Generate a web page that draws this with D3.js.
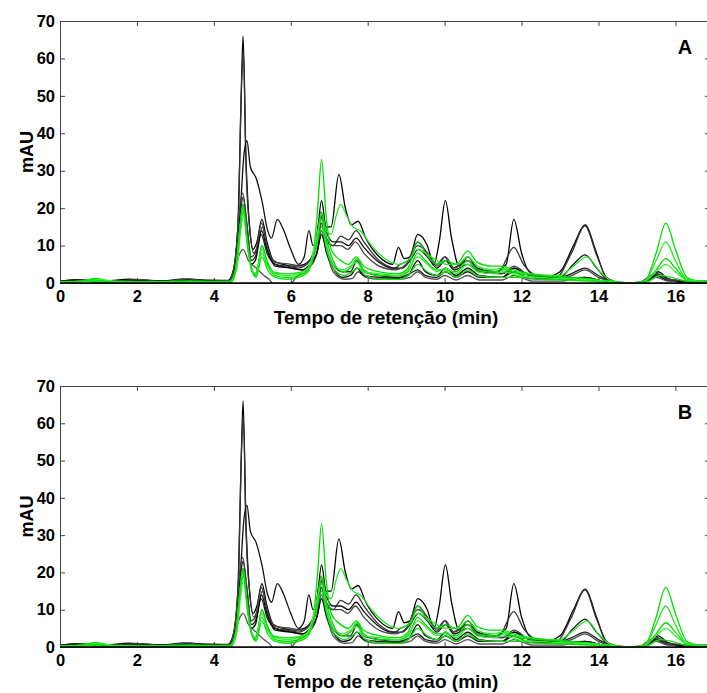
<!DOCTYPE html>
<html>
<head>
<meta charset="utf-8">
<script src="https://cdn.jsdelivr.net/npm/d3@7"></script>
<style>
  html, body { margin: 0; padding: 0; background: #fff; }
  svg { display: block; font-family: "Liberation Sans", Arial, sans-serif; }
  .tick text { font-weight: bold; font-size: 16.5px; fill: #000; }
  .axis path, .axis line { stroke: #444; }
  .trace { fill: none; }
</style>
</head>
<body>
<svg id="chart" width="707" height="693"></svg>
<script>
// Chromatograms, [retention time (min), mAU].
// Both panels show the same set of runs.
const xTicks = [0, 2, 4, 6, 8, 10, 12, 14, 16];
const yTicks = [0, 10, 20, 30, 40, 50, 60, 70];

const black1 = [[0,0.2],[0.4,0.7],[0.8,0.5],[1.5,0.3],[2.0,0.8],[2.5,0.4],[3.2,1.0],[3.6,0.5],[4.35,0.5],[4.5,3],[4.62,14],[4.7,45],[4.76,66],[4.83,35],[4.92,16],[5.02,9],[5.12,11],[5.25,17],[5.38,11],[5.55,6],[5.8,5],[6.1,4.5],[6.35,5],[6.55,7],[6.68,12],[6.8,22],[6.92,15],[7.05,15],[7.25,29],[7.42,20],[7.58,15.5],[7.75,16.5],[7.95,12],[8.3,7],[8.65,5],[8.8,9.5],[8.95,6.5],[9.1,7],[9.3,13],[9.55,10],[9.72,5],[9.86,11],[10.02,22],[10.18,12],[10.38,4.5],[10.6,7],[10.85,4],[11.3,3],[11.6,5],[11.8,17],[12.0,8],[12.2,3],[12.6,1.5],[13.0,3],[13.35,10],[13.65,15.5],[13.95,8],[14.2,1.5],[14.6,0],[15.2,0.2],[15.5,2.5],[15.8,1],[16.2,0.3],[16.9,0.5]];
const black2 = [[0,0.4],[0.5,0.8],[1.0,0.3],[2.0,0.6],[2.6,0.3],[3.3,0.9],[3.7,0.4],[4.38,0.6],[4.52,4],[4.64,18],[4.71,50],[4.77,61],[4.84,30],[4.94,14],[5.04,8],[5.14,10],[5.26,15],[5.4,9],[5.6,5],[5.9,4.5],[6.2,4],[6.45,5.5],[6.62,9],[6.79,19],[6.93,11],[7.1,10],[7.3,12.5],[7.5,11.5],[7.7,14],[7.9,11],[8.3,6],[8.7,4],[8.85,5],[9.05,6],[9.3,10],[9.55,8],[9.8,5],[10.0,7],[10.2,4],[10.6,6],[10.9,3.5],[11.4,3],[11.8,9.5],[12.05,5],[12.4,2],[12.9,1.5],[13.3,8],[13.65,15.3],[13.95,7.5],[14.25,1],[14.7,0],[15.2,0.2],[15.5,2.2],[15.85,0.8],[16.3,0.2],[16.9,0.4]];
const black3 = [[0,0.3],[0.6,0.5],[1.2,0.6],[1.8,1.0],[2.3,0.7],[3.0,0.5],[3.5,0.8],[4.4,0.7],[4.55,5],[4.68,18],[4.78,34],[4.86,38],[4.95,31],[5.1,28],[5.25,22],[5.4,14],[5.5,12],[5.65,17],[5.8,14.5],[6.0,9],[6.2,5],[6.35,7],[6.47,14],[6.58,10],[6.7,12],[6.82,18],[6.95,13],[7.1,11],[7.3,11],[7.5,10],[7.7,12],[7.9,9.5],[8.3,5.5],[8.6,4],[8.9,4],[9.1,6],[9.32,9],[9.55,7],[9.8,4],[10.02,6],[10.25,3.5],[10.6,5],[10.9,3],[11.5,2.5],[11.8,4],[12.1,2.5],[12.5,1.5],[13.0,1.5],[13.35,5],[13.65,7.5],[13.95,4],[14.3,0.5],[14.8,0],[15.2,0.3],[15.5,2],[15.8,0.7],[16.9,0.3]];
const black4 = [[0,0.2],[0.5,0.5],[1.1,0.3],[2.0,0.4],[2.8,0.5],[3.3,0.8],[3.8,0.4],[4.4,0.5],[4.55,5],[4.68,18],[4.76,23],[4.86,15],[4.98,6],[5.08,7],[5.23,13],[5.38,8],[5.6,5],[6.0,4],[6.3,3.5],[6.55,5],[6.7,9],[6.8,16],[6.92,10],[7.1,5],[7.35,3],[7.55,3],[7.72,6],[7.9,3],[8.3,2],[8.8,1.5],[9.1,2.5],[9.3,3.5],[9.5,2],[9.8,1.5],[10.02,3],[10.3,1.5],[10.6,3],[10.9,1.5],[11.5,1.5],[11.8,3],[12.2,1.2],[12.8,1],[13.3,2.5],[13.65,4],[14.0,2],[14.4,0.3],[15.0,0],[15.3,0.5],[15.5,2],[15.75,1],[16.2,0.2],[16.9,0.3]];
const black5 = [[0,0.3],[0.7,0.5],[1.5,0.4],[2.2,0.3],[3.2,0.7],[4.4,0.5],[4.55,4],[4.68,8],[4.76,9],[4.9,6],[5.1,4],[5.3,2],[5.5,0.2],[5.6,-2],[5.95,-1],[6.1,1],[6.3,3],[6.55,5],[6.7,9],[6.8,14],[6.92,9],[7.1,3],[7.4,1],[7.6,1.2],[7.75,3],[7.95,1.5],[8.3,1],[8.8,1],[9.1,1.5],[9.3,3],[9.5,1.5],[9.8,1],[10.0,2],[10.3,0.8],[10.6,2],[10.9,0.8],[11.5,0.8],[11.8,2],[12.3,0.5],[13.0,0.5],[13.65,1.5],[14.2,0.3],[15.0,0],[15.5,1.5],[15.8,0.5],[16.9,0.2]];
const black6 = [[0,0.5],[0.4,0.8],[0.9,0.6],[1.6,0.3],[2.4,0.4],[3.1,0.6],[3.4,1.0],[3.9,0.5],[4.42,0.6],[4.57,6],[4.68,17],[4.75,21],[4.85,14],[4.97,5],[5.08,6],[5.24,14],[5.38,9],[5.6,4.5],[6.0,4],[6.3,3.5],[6.5,5],[6.68,8],[6.8,13],[6.93,8],[7.1,4],[7.35,1.5],[7.55,2],[7.72,4],[7.9,2],[8.3,1.5],[8.8,1.2],[9.05,2],[9.3,6],[9.5,3],[9.8,2],[10.02,4],[10.3,2],[10.6,4],[10.9,2],[11.5,1.5],[11.8,4],[12.2,2],[12.8,1],[13.65,1.5],[14.2,0.3],[15.0,0],[15.35,1],[15.55,3],[15.8,1.2],[16.3,0.3],[16.9,0.4]];
const black7 = [[0,0.4],[0.6,0.6],[1.3,0.4],[2.1,0.9],[2.7,0.4],[3.3,1.1],[3.8,0.5],[4.4,0.6],[4.55,6],[4.67,20],[4.75,24],[4.86,16],[4.97,7],[5.08,8],[5.24,16],[5.38,10],[5.6,5.5],[6.0,5],[6.3,4.5],[6.5,6],[6.68,10],[6.8,17],[6.93,12],[7.1,10],[7.3,10],[7.48,9],[7.68,11],[7.9,8],[8.3,4.5],[8.7,3.5],[9.0,5],[9.3,11],[9.55,8],[9.8,4.5],[10.02,7],[10.25,4],[10.6,6],[10.9,3],[11.5,2.5],[11.8,4.5],[12.2,2],[12.8,1],[13.3,2],[13.65,3.5],[14.0,1.5],[14.4,0.2],[15.0,0],[15.5,2.5],[15.8,1],[16.9,0.3]];

const green1 = [[0,0.2],[0.5,0.4],[0.9,1.2],[1.3,0.5],[1.8,0.2],[2.5,0.3],[3.2,0.5],[4.4,0.3],[4.55,3],[4.67,14],[4.75,21],[4.85,13],[4.97,4],[5.07,2],[5.15,5],[5.25,10],[5.38,6],[5.55,3],[5.9,2.5],[6.3,3],[6.55,6],[6.7,20],[6.8,33],[6.92,18],[7.05,9],[7.3,6],[7.5,5],[7.7,7],[7.9,4.5],[8.3,3],[8.8,2.5],[9.05,4],[9.3,11],[9.5,8],[9.8,5],[10.02,6],[10.3,5],[10.6,8.5],[10.85,5.5],[11.2,4.5],[11.5,4.5],[11.8,3.5],[12.2,2.5],[12.7,2],[13.3,1.5],[13.7,1.2],[14.2,0.5],[14.8,0],[15.2,0.5],[15.5,8],[15.75,16],[16.0,9],[16.3,1.5],[16.6,0.5],[16.9,0.3]];
const green2 = [[0,0.3],[0.6,0.5],[0.95,1.0],[1.4,0.3],[2.2,0.2],[3.0,0.4],[4.42,0.3],[4.57,4],[4.68,15],[4.76,20],[4.86,12],[4.98,4],[5.08,2.5],[5.25,8],[5.4,4.5],[5.6,2.5],[6.0,2.5],[6.35,3],[6.55,6],[6.7,13],[6.8,19],[6.92,14],[7.05,13],[7.18,18],[7.3,21],[7.45,18],[7.62,15],[7.8,14],[8.1,10],[8.45,6.5],[8.8,5],[9.05,6],[9.3,9],[9.5,8],[9.8,6],[10.05,5],[10.35,5],[10.6,7],[10.85,4.5],[11.2,3.5],[11.55,4],[11.8,3],[12.2,2.5],[12.6,2],[13.0,2],[13.35,4.5],[13.7,7],[14.0,3.5],[14.3,0.8],[14.8,0],[15.2,0.5],[15.5,6],[15.75,11],[16.0,6],[16.3,1],[16.9,0.3]];
const green3 = [[0,0.2],[0.5,0.3],[0.9,0.8],[1.5,0.2],[2.5,0.2],[3.3,0.4],[4.45,0.3],[4.6,5],[4.7,16],[4.77,19],[4.88,10],[5.0,3],[5.1,2],[5.25,10],[5.4,5],[5.6,2],[5.9,1.5],[6.2,2],[6.45,3.5],[6.65,10],[6.8,18],[6.92,12],[7.1,6],[7.35,3],[7.55,4],[7.72,6.5],[7.9,3.5],[8.3,2],[8.8,2],[9.05,3],[9.3,8],[9.5,6],[9.8,3.5],[10.02,3.5],[10.3,3],[10.6,6],[10.85,3.5],[11.3,3],[11.55,3.5],[11.9,2.5],[12.5,2],[13.0,1.5],[13.6,1],[14.2,0.5],[14.8,0],[15.2,0.5],[15.5,3.5],[15.75,6.5],[16.0,4],[16.3,0.8],[16.9,0.3]];
const green4 = [[0,0.3],[0.7,0.4],[1.0,0.9],[1.6,0.3],[2.4,0.2],[3.4,0.3],[4.45,0.4],[4.6,4],[4.7,14],[4.77,18],[4.88,9],[5.0,3],[5.1,2.5],[5.25,9],[5.4,4.5],[5.6,2.5],[5.9,2],[6.2,2.5],[6.45,4],[6.65,11],[6.8,17],[6.93,10],[7.1,5],[7.35,3.5],[7.55,4.5],[7.72,5.5],[7.9,3],[8.3,2.5],[8.8,2],[9.05,3.5],[9.3,7],[9.55,5],[9.8,3],[10.02,4],[10.3,2.5],[10.6,5],[10.85,3],[11.3,2.5],[11.55,3],[11.9,2],[12.5,1.5],[13.0,1.2],[13.6,1],[14.2,0.5],[14.8,0],[15.2,0.5],[15.5,3],[15.75,5],[16.0,3],[16.3,0.8],[16.9,0.3]];
const green5 = [[0,0.2],[0.8,0.5],[1.2,0.3],[2.0,0.1],[3.0,0.3],[4.45,0.3],[4.6,6],[4.7,17],[4.76,21],[4.87,11],[5.0,3],[5.1,1.5],[5.25,7],[5.4,3.5],[5.6,1.5],[5.9,1],[6.2,1.5],[6.45,3],[6.65,9],[6.8,15],[6.93,9],[7.1,4],[7.4,2],[7.6,3],[7.75,4],[7.95,2],[8.4,1],[8.8,1],[9.05,2],[9.3,5],[9.55,3],[9.8,2],[10.05,3],[10.3,1.5],[10.6,3.5],[10.85,2],[11.4,1.5],[11.9,1.5],[12.5,1],[13.2,0.8],[14.0,0.4],[14.8,0],[15.3,0.5],[15.6,2],[15.9,1.5],[16.3,0.5],[16.9,0.3]];

const blackTraces = [black1, black2, black3, black4, black5, black6, black7];
const greenTraces = [green1, green2, green3, green4, green5];
const blackColors = ["#000", "#333", "#111", "#222", "#555", "#000", "#444"];
const greenColors = ["#00e000", "#22e622", "#00d800", "#33ee33", "#11dd11"];

const panels = [
  { label: "A", top: 21, bottom: 283 },
  { label: "B", top: 386, bottom: 647 },
];

const svg = d3.select("#chart");
const left = 60, right = 710;
const x = d3.scaleLinear().domain([0, 16.9]).range([left, right]);

panels.forEach((p, i) => {
  const y = d3.scaleLinear().domain([0, 70]).range([p.bottom, p.top]);
  const g = svg.append("g");

  g.append("clipPath").attr("id", "clip" + i)
    .append("rect")
    .attr("x", left).attr("y", p.top)
    .attr("width", right - left).attr("height", p.bottom - p.top);

  // Frame: inward ticks on all four sides, labels only left and bottom.
  g.append("g").attr("class", "axis")
    .attr("transform", `translate(0,${p.top})`)
    .call(d3.axisTop(x).tickValues(xTicks).tickSize(-5).tickFormat(""));
  g.append("g").attr("class", "axis")
    .attr("transform", `translate(${right},0)`)
    .call(d3.axisRight(y).tickValues(yTicks).tickSize(-5).tickFormat(""));
  g.append("g").attr("class", "axis")
    .attr("transform", `translate(${left},0)`)
    .call(d3.axisLeft(y).tickValues(yTicks).tickSize(-5).tickSizeOuter(0).tickPadding(5));
  g.append("g").attr("class", "axis")
    .attr("transform", `translate(0,${p.bottom})`)
    .call(d3.axisBottom(x).tickValues(xTicks).tickSize(-5).tickSizeOuter(0).tickPadding(7));

  const line = d3.line()
    .x((d) => x(d[0]))
    .y((d) => y(d[1]))
    .curve(d3.curveMonotoneX);

  const plot = g.append("g").attr("clip-path", `url(#clip${i})`);
  plot.selectAll("path.black")
    .data(blackTraces)
    .join("path")
    .attr("class", "trace black")
    .attr("stroke", (d, k) => blackColors[k])
    .attr("stroke-width", 1.3)
    .attr("d", line);
  plot.selectAll("path.green")
    .data(greenTraces)
    .join("path")
    .attr("class", "trace green")
    .attr("stroke", (d, k) => greenColors[k])
    .attr("stroke-width", 1.3)
    .attr("d", line);

  g.append("line")
    .attr("x1", left).attr("x2", right)
    .attr("y1", p.bottom).attr("y2", p.bottom)
    .attr("stroke", "#000").attr("stroke-width", 1.5);

  g.append("text")
    .attr("x", 685).attr("y", p.top + 33)
    .attr("text-anchor", "middle")
    .attr("font-size", 20).attr("font-weight", "bold")
    .text(p.label);

  g.append("text")
    .attr("x", 386).attr("y", p.bottom + 41)
    .attr("text-anchor", "middle")
    .attr("font-size", 19).attr("font-weight", "bold")
    .text("Tempo de retenção (min)");

  g.append("text")
    .attr("transform", `translate(33,${(p.top + p.bottom) / 2}) rotate(-90)`)
    .attr("text-anchor", "middle")
    .attr("font-size", 18).attr("font-weight", "bold")
    .text("mAU");
});
</script>
</body>
</html>
